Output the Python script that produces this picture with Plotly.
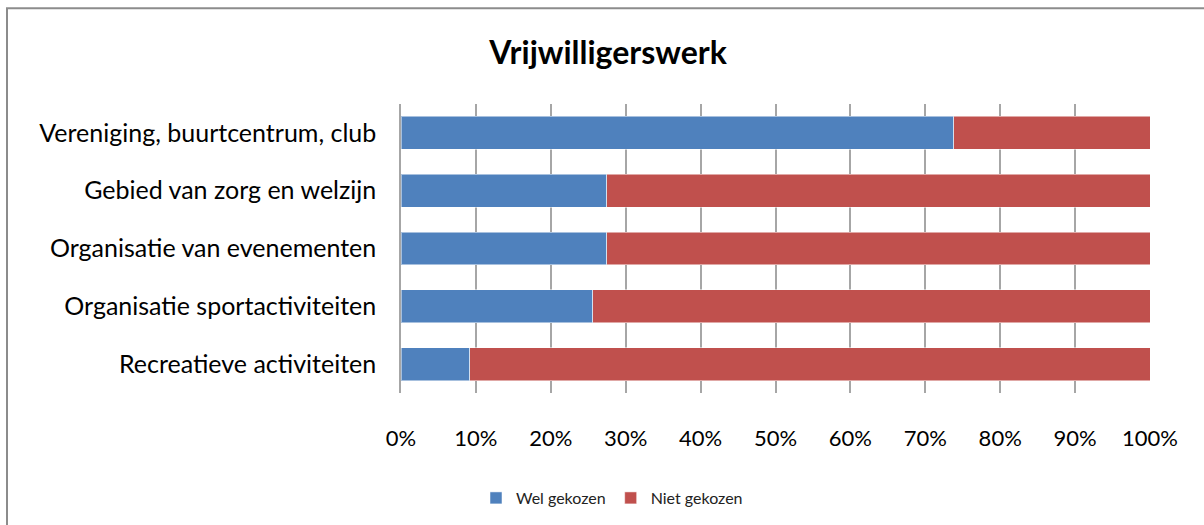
import plotly.graph_objects as go

categories = [
    "Vereniging, buurtcentrum, club",
    "Gebied van zorg en welzijn",
    "Organisatie van evenementen",
    "Organisatie sportactiviteiten",
    "Recreatieve activiteiten",
]
wel_gekozen = [0.738, 0.275, 0.275, 0.256, 0.092]
niet_gekozen = [0.262, 0.725, 0.725, 0.744, 0.908]
series_names = ["Wel gekozen", "Niet gekozen"]
tick_vals = [i / 10 for i in range(11)]
tick_text = [f"{i * 10}%" for i in range(11)]

FONT = "Lato, Carlito, Calibri, sans-serif"

fig = go.Figure()
fig.add_trace(go.Bar(
    y=categories, x=wel_gekozen, name=series_names[0], orientation="h",
    marker=dict(color="#4F81BD", line=dict(color="rgba(255,255,255,0.5)", width=1)),
))
fig.add_trace(go.Bar(
    y=categories, x=niet_gekozen, name=series_names[1], orientation="h",
    marker=dict(color="#C0504D", line=dict(color="rgba(255,255,255,0.5)", width=1)),
))

# pixel -> paper helpers (plot area: x 401..1150, y 104..394)
L, R, T, B = 401, 1150, 104, 394
def px(x):
    return (x - L) / (R - L)
def py(y):
    return (B - y) / (B - T)

fig.update_layout(
    barmode="stack",
    bargap=0.43,
    width=1204, height=525,
    margin=dict(l=L, r=1204 - R, t=T, b=525 - B, pad=0),
    paper_bgcolor="white", plot_bgcolor="white",
    font=dict(family=FONT, color="black"),
    title=dict(text="<b>Vrijwilligerswerk</b>", font=dict(size=32, family=FONT, color="black"),
               x=608 / 1204, xanchor="center", xref="container",
               y=1 - 53 / 525, yanchor="middle", yref="container"),
    legend=dict(orientation="h", x=px(612), xanchor="center", y=py(498), yanchor="middle",
                font=dict(size=16, family=FONT, color="#222"), traceorder="normal",
                itemwidth=30, tracegroupgap=0, bgcolor="rgba(0,0,0,0)"),
    xaxis=dict(range=[0, 1], tickvals=tick_vals, ticktext=tick_text,
               showgrid=True, gridcolor="#A6A6A6", gridwidth=1.5,
               ticks="outside", ticklen=26, tickcolor="rgba(0,0,0,0)",
               tickfont=dict(size=22, family=FONT, color="black"),
               zeroline=False, showline=False, fixedrange=True),
    yaxis=dict(autorange="reversed", showgrid=False, showline=True, linecolor="#A6A6A6",
               linewidth=1.5, ticks="outside", ticklen=18, tickcolor="rgba(0,0,0,0)",
               tickfont=dict(size=25, family=FONT, color="black"), fixedrange=True),
    showlegend=True,
    shapes=[
        dict(type="line", xref="paper", yref="paper", x0=px(7), x1=px(7), y0=py(8), y1=py(560),
             line=dict(color="#8C8C8C", width=2)),
        dict(type="line", xref="paper", yref="paper", x0=px(6), x1=px(1230), y0=py(8), y1=py(8),
             line=dict(color="#8C8C8C", width=2)),
    ],
)

fig.write_html(
    "out.html",
    config={"displayModeBar": False},
    post_script="document.body.style.margin='0';document.body.style.overflow='hidden';",
)
